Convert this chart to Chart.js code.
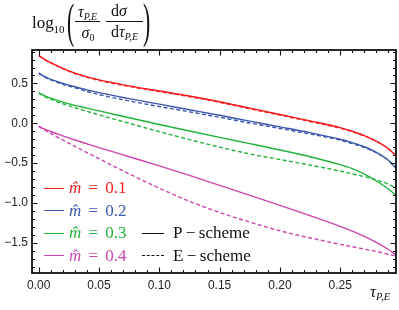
<!DOCTYPE html>
<html>
<head>
<meta charset="utf-8">
<script src="https://cdn.jsdelivr.net/npm/chart.js@4.4.0/dist/chart.umd.min.js"></script>
<style>
  html, body { margin: 0; padding: 0; background: #fff; }
  #wrap { position: relative; width: 399px; height: 310px; overflow: hidden; }
  #wrap canvas { position: absolute; left: 0; top: 0; }
  .t { position: absolute; font-family: "Liberation Serif", "DejaVu Serif", serif; line-height: 1; white-space: nowrap; color: #111; }
  .i { font-style: italic; }
  .bar { position: absolute; height: 0; border-top: 1px solid #111; }
  .seg { position: absolute; height: 0; }
</style>
</head>
<body>
<div id="wrap">
  <canvas id="chart" width="399" height="310"></canvas>
</div>
<script>
// tau_{P,E} sample points
const tau = [0, 0.005, 0.01, 0.02, 0.03, 0.04, 0.05, 0.075, 0.1, 0.125, 0.15, 0.175, 0.2, 0.225, 0.25, 0.26, 0.27, 0.28, 0.29, 0.296];

// P-scheme (solid)
const p01 = [0.85, 0.80, 0.76, 0.69, 0.63, 0.583, 0.545, 0.47, 0.405, 0.342, 0.27, 0.19, 0.11, 0.03, -0.055, -0.10, -0.155, -0.225, -0.32, -0.40];
const p02 = [0.63, 0.585, 0.55, 0.50, 0.458, 0.42, 0.385, 0.31, 0.24, 0.17, 0.10, 0.027, -0.045, -0.118, -0.20, -0.243, -0.295, -0.365, -0.465, -0.56];
const p03 = [0.38, 0.345, 0.315, 0.265, 0.225, 0.19, 0.155, 0.07, -0.015, -0.097, -0.177, -0.255, -0.335, -0.42, -0.52, -0.57, -0.64, -0.725, -0.825, -0.90];
const p04 = [-0.04, -0.073, -0.103, -0.158, -0.21, -0.258, -0.305, -0.42, -0.535, -0.655, -0.78, -0.905, -1.03, -1.16, -1.295, -1.355, -1.42, -1.495, -1.585, -1.65];

// E-scheme (dashed)
const e01 = [0.85, 0.80, 0.757, 0.686, 0.625, 0.578, 0.538, 0.463, 0.398, 0.335, 0.263, 0.183, 0.103, 0.022, -0.062, -0.105, -0.158, -0.226, -0.32, -0.40];
const e02 = [0.63, 0.58, 0.545, 0.49, 0.445, 0.40, 0.36, 0.28, 0.21, 0.143, 0.075, 0.003, -0.065, -0.135, -0.212, -0.255, -0.305, -0.372, -0.465, -0.55];
const e03 = [0.38, 0.335, 0.30, 0.245, 0.195, 0.15, 0.105, 0.0, -0.105, -0.205, -0.30, -0.385, -0.455, -0.525, -0.60, -0.635, -0.67, -0.71, -0.765, -0.81];
const e04 = [-0.04, -0.085, -0.128, -0.21, -0.29, -0.368, -0.445, -0.635, -0.815, -0.98, -1.12, -1.24, -1.35, -1.44, -1.52, -1.55, -1.58, -1.61, -1.645, -1.665];

const mLabels = ['0.1', '0.2', '0.3', '0.4'];
const colors = ['#f41c1c', '#3c56ae', '#22b23c', '#cc46ad'];

const xTicks = [0, 0.05, 0.1, 0.15, 0.2, 0.25];
const yTicks = [-1.5, -1.0, -0.5, 0.0, 0.5];

const pSeries = [p01, p02, p03, p04];
const eSeries = [e01, e02, e03, e04];

function line(values, color, dashed) {
    return {
        data: tau.map((t, i) => ({ x: t, y: values[i] })),
        borderColor: color,
        borderWidth: 1.4,
        borderDash: dashed ? [4, 2.5] : [],
        pointRadius: 0,
        fill: false,
        cubicInterpolationMode: 'monotone'
    };
}

const datasets = [];
eSeries.forEach((s, i) => datasets.push(line(s, colors[i], true)));
pSeries.forEach((s, i) => datasets.push(line(s, colors[i], false)));

// Mathematica-style frame, ticks pointing inwards on all four sides
const frameTicks = {
    id: 'frameTicks',
    afterDraw(chart) {
        const { ctx, chartArea: a, scales: { x, y } } = chart;
        ctx.save();
        ctx.strokeStyle = '#111';
        ctx.lineWidth = 1.1;
        ctx.beginPath();
        for (let i = 0; i <= 29; i++) {
            const px = Math.round(x.getPixelForValue(i / 100)) + 0.5;
            const len = i % 5 === 0 ? 5.5 : 3;
            ctx.moveTo(px, a.bottom); ctx.lineTo(px, a.bottom - len);
            ctx.moveTo(px, a.top); ctx.lineTo(px, a.top + len);
        }
        for (let i = -18; i <= 9; i++) {
            const py = Math.round(y.getPixelForValue(i / 10)) + 0.5;
            const len = i % 5 === 0 ? 5.5 : 3;
            ctx.moveTo(a.left, py); ctx.lineTo(a.left + len, py);
            ctx.moveTo(a.right, py); ctx.lineTo(a.right - len, py);
        }
        ctx.stroke();
        ctx.lineWidth = 1.8;
        ctx.strokeRect(a.left, a.top, a.right - a.left, a.bottom - a.top);
        ctx.restore();
    }
};

const tickFont = { family: '"Liberation Sans", Arial, sans-serif', size: 12 };

const chart = new Chart(document.getElementById('chart'), {
    type: 'line',
    data: { datasets },
    options: {
        responsive: false,
        animation: false,
        devicePixelRatio: 1,
        layout: { padding: { top: 50, right: 3, left: 0, bottom: 0 } },
        plugins: { legend: { display: false }, tooltip: { enabled: false } },
        scales: {
            x: {
                type: 'linear',
                min: -0.0056,
                max: 0.2963,
                grid: { display: false, drawTicks: false },
                border: { display: false },
                afterBuildTicks: s => { s.ticks = xTicks.map(v => ({ value: v })); },
                afterFit: s => { s.height = 37; },
                ticks: {
                    padding: 5,
                    maxRotation: 0,
                    color: '#222',
                    font: tickFont,
                    callback: v => v.toFixed(2)
                }
            },
            y: {
                min: -1.88,
                max: 0.92,
                grid: { display: false, drawTicks: false },
                border: { display: false },
                afterBuildTicks: s => { s.ticks = yTicks.map(v => ({ value: v })); },
                afterFit: s => { s.width = 32; },
                ticks: {
                    padding: 4,
                    color: '#222',
                    font: tickFont,
                    callback: v => v.toFixed(1).replace('-', '\u2212')
                }
            }
        }
    },
    plugins: [frameTicks]
});

// text overlays (axis labels and the in-plot legend)
const wrap = document.getElementById('wrap');

function text(html, left, baseline, size, opts = {}) {
    const el = document.createElement('div');
    el.className = 't' + (opts.italic ? ' i' : '');
    el.innerHTML = html;
    el.style.fontSize = size + 'px';
    el.style.left = left + 'px';
    el.style.top = (baseline - 0.84 * size) + 'px';
    if (opts.color) el.style.color = opts.color;
    if (opts.center) el.style.transform = 'translateX(-50%)';
    if (opts.transform) {
        el.style.transform = opts.transform;
        el.style.transformOrigin = 'left center';
    }
    if (opts.wordSpacing) el.style.wordSpacing = opts.wordSpacing + 'px';
    wrap.appendChild(el);
    return el;
}

function bar(x1, x2, y) {
    const el = document.createElement('div');
    el.className = 'bar';
    el.style.left = x1 + 'px';
    el.style.width = (x2 - x1) + 'px';
    el.style.top = y + 'px';
    wrap.appendChild(el);
}

function seg(x1, x2, y, color, style) {
    const el = document.createElement('div');
    el.className = 'seg';
    el.style.left = x1 + 'px';
    el.style.width = (x2 - x1) + 'px';
    el.style.top = (y - 0.5) + 'px';
    el.style.borderTop = '1.4px ' + style + ' ' + color;
    wrap.appendChild(el);
}

const sub = s => '<span style="font-size:0.62em;position:relative;top:0.3em;font-style:italic">' + s + '</span>';

// y axis label: log10( tau/sigma0 * dsigma/dtau )
text('log', 32, 28, 17);
text('10', 53.5, 33, 11);
text('(', 66.5, 37.5, 48, { transform: 'scaleX(0.45)' });
text('<i>τ</i>' + sub('P,E'), 87.5, 17, 16, { center: true });
bar(75, 100, 20.5);
text('<i>σ</i><span style="font-size:0.62em;position:relative;top:0.3em">0</span>', 88, 38, 16, { center: true });
text('d<i>σ</i>', 119, 16.5, 16, { center: true });
bar(106, 143, 20.5);
text('d<i>τ</i>' + sub('P,E'), 124.5, 37.5, 16, { center: true });
text(')', 143, 37.5, 48, { transform: 'scaleX(0.45)' });

// x axis label
text('<i>τ</i>' + sub('P,E'), 370, 297, 17);

// legend
const rowY = [188, 210.5, 233, 255.5];
mLabels.forEach((m, i) => {
    seg(43.5, 64, rowY[i], colors[i], 'solid');
    text('<i>m̂</i> = ' + m, 69, rowY[i] + 5.5, 17, { color: colors[i], wordSpacing: 3 });
});
seg(141.5, 163.5, rowY[2], '#111', 'solid');
text('P\u2009\u2212\u2009scheme', 173, rowY[2] + 5.5, 17);
seg(141.5, 163.5, rowY[3], '#111', 'dashed');
text('E\u2009\u2212\u2009scheme', 173, rowY[3] + 5.5, 17);
</script>
</body>
</html>
